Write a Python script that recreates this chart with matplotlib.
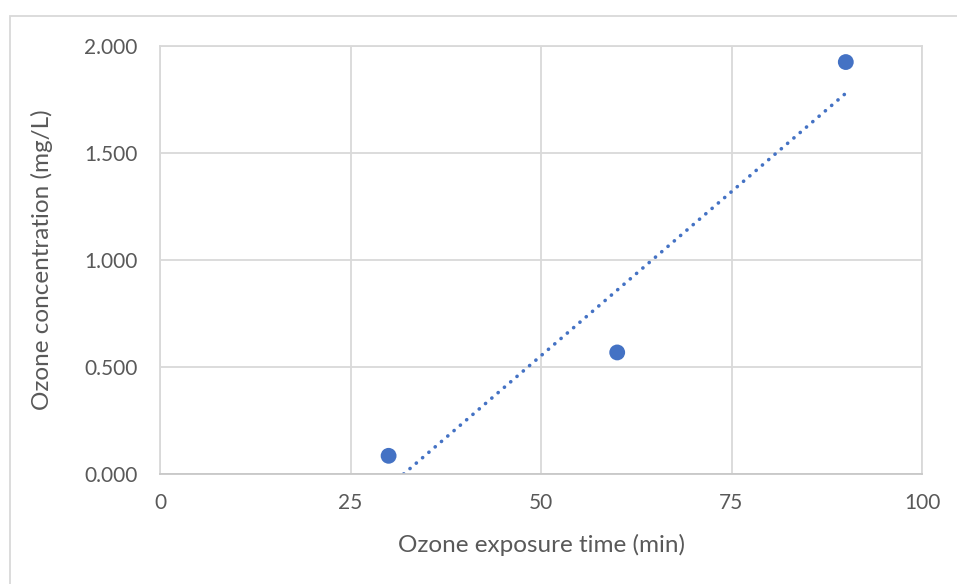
import numpy as np
import matplotlib
matplotlib.use("Agg")
import matplotlib.pyplot as plt
from matplotlib.patches import Rectangle

plt.rcParams['font.family'] = ['Lato', 'DejaVu Sans']

# Measured ozone concentration versus exposure time
exposure_min = [30, 60, 90]
ozone_mg_l = [0.085, 0.568, 1.925]

x_ticks = [0, 25, 50, 75, 100]
y_ticks = [0.0, 0.5, 1.0, 1.5, 2.0]

blue = '#4472C4'
grid_c = '#d9d9d9'
text_c = '#595959'

W, H = 957, 584
fig = plt.figure(figsize=(W / 100, H / 100), dpi=100)

# chart-area border
fig.patches.append(Rectangle((9.5 / W, -0.1), 1.2, 1 - 16 / H + 0.1,
                             transform=fig.transFigure, fill=False,
                             edgecolor=grid_c, linewidth=1.3, zorder=0))

ax = fig.add_axes([160 / W, (H - 474) / H, 762 / W, 428 / H])
ax.set_xlim(0, 100)
ax.set_ylim(0, 2.0)
ax.set_xticks(x_ticks)
ax.set_yticks(y_ticks)
ax.set_xticklabels([str(t) for t in x_ticks])
ax.set_yticklabels([f"{t:.3f}" for t in y_ticks])
ax.grid(True, color=grid_c, linewidth=1.3)
ax.set_axisbelow(True)
for s in ax.spines.values():
    s.set_color(grid_c)
    s.set_linewidth(1.3)
ax.spines['bottom'].set_color('#c8c8c8')
ax.tick_params(length=0, labelsize=15, colors=text_c)
ax.tick_params(axis='y', pad=16)
ax.tick_params(axis='x', pad=14)

# linear trendline fitted to the measurements, clipped at the axis floor
m, b = np.polyfit(exposure_min, ozone_mg_l, 1)
x_start = max(min(exposure_min), -b / m)
xs = np.array([x_start, max(exposure_min)])
ax.plot(xs, m * xs + b, color=blue, linewidth=2.6,
        linestyle=(0, (0.05, 2.25)), dash_capstyle='round',
        solid_capstyle='round', zorder=2)

ax.scatter(exposure_min, ozone_mg_l, s=130, color=blue, zorder=3,
           edgecolors='none')

ax.set_xlabel('Ozone exposure time (min)', fontsize=17.5, color=text_c)
ax.set_ylabel('Ozone concentration (mg/L)', fontsize=17.5, color=text_c)
ax.xaxis.set_label_coords(0.5, -(545 - 474) / 428,
                          transform=ax.transAxes)
ax.xaxis.label.set_va('center')
ax.yaxis.set_label_coords(-(160 - 42) / 762, 0.5)
ax.yaxis.label.set_va('center')

fig.savefig('out.png', dpi=100)
